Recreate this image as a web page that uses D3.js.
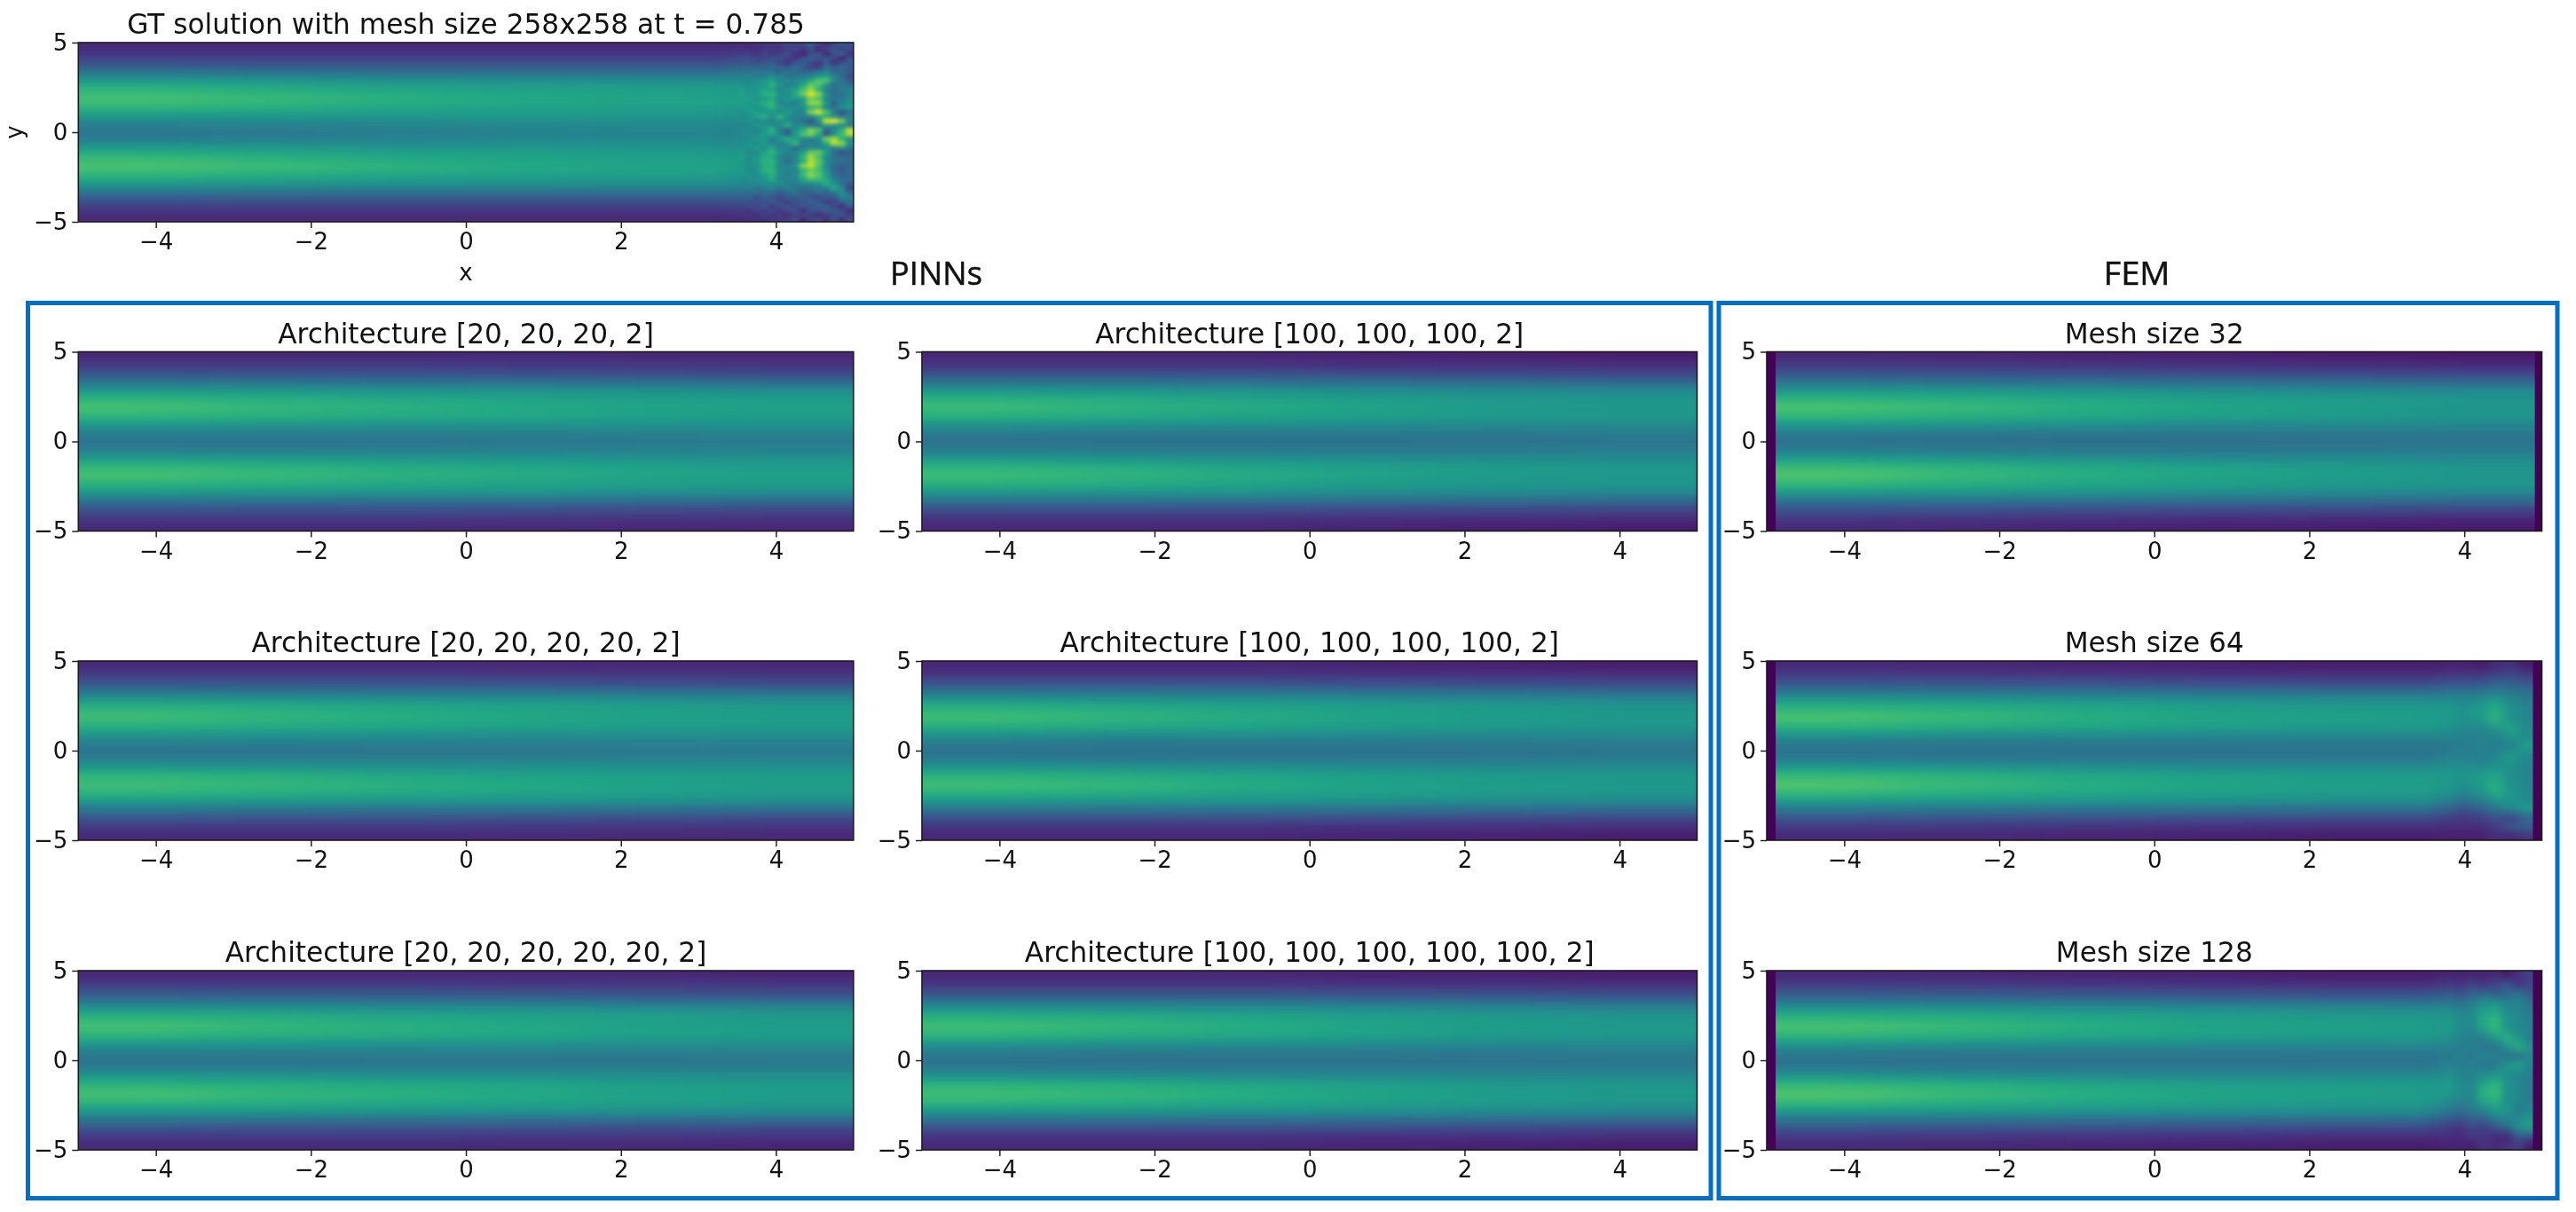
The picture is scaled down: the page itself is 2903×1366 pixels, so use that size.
<!DOCTYPE html>
<html><head><meta charset="utf-8"><style>
html,body{margin:0;padding:0;background:#fff;overflow:hidden}
text{font-family:"DejaVu Sans";fill:#111}
.soft{filter:blur(.45px)}
</style></head><body><svg id="c" width="2903" height="1366"></svg>
<script src="https://cdn.jsdelivr.net/npm/d3@7/dist/d3.min.js"></script>
<script>
// Field values on the 0-100 range of the viridis colour map.
// Each coarse table: one row per column along x, 21 samples from y=5 to y=-5.
const gtBase=[
[12,17,26,39,54,65,70,66,55,44,39,44,56,67,71,65,54,39,26,17,12],
[12,17,25,38,53,62,67,63,55,45,40,45,56,63,68,62,53,38,25,17,12],
[12,17,25,37,51,59,63,60,54,46,42,46,54,60,64,59,51,37,25,17,12],
[12,17,25,37,50,57,60,58,54,47,44,47,54,58,60,57,50,37,25,17,12],
[12,17,25,37,49,56,58,57,53,48,45,48,53,57,58,56,49,37,25,17,12],
[12,17,25,37,49,55,57,56,52,47,45,47,52,56,57,55,49,37,25,17,12]];
const pinn20a=[
[12,17,26,38,53,64,70,65,54,43,38,43,55,66,70,64,53,38,26,17,12],
[12,17,25,37,52,62,66,63,53,43,38,43,54,64,67,62,52,37,25,17,12],
[12,17,25,36,51,60,63,61,52,43,38,43,53,61,64,60,51,36,25,17,12],
[12,16,24,36,50,58,60,59,52,43,39,43,52,59,61,58,50,36,24,16,12],
[11,16,23,35,49,56,58,57,51,44,40,44,51,57,58,56,49,35,23,16,11],
[11,15,22,34,48,55,56,55,51,44,41,44,51,55,56,55,48,34,22,15,11]];
const pinn20b=[
[12,17,26,38,53,64,69,64,54,43,38,43,54,65,69,64,53,38,26,17,12],
[12,17,25,37,52,62,65,62,53,43,38,43,53,63,66,62,52,37,25,17,12],
[12,17,25,36,51,60,62,60,52,43,39,43,52,60,63,60,51,36,25,17,12],
[12,16,24,36,50,58,59,58,51,43,39,43,51,58,60,58,50,36,24,16,12],
[11,16,23,35,49,56,57,56,51,44,40,44,51,56,57,56,49,35,23,16,11],
[11,15,22,34,48,54,55,55,50,44,41,44,50,55,55,54,48,34,22,15,11]];
const pinn20c=[
[12,17,26,38,53,64,70,65,54,43,38,43,55,65,70,64,53,38,26,17,12],
[12,17,25,37,52,62,66,63,53,43,38,43,54,63,66,62,52,37,25,17,12],
[12,17,25,36,51,60,63,61,52,43,39,43,52,61,63,60,51,36,25,17,12],
[12,16,24,36,50,58,60,59,52,43,39,43,52,59,60,58,50,36,24,16,12],
[11,16,23,35,49,56,57,56,51,43,39,43,51,56,57,56,49,35,23,16,11],
[10,15,22,34,48,54,55,55,50,43,40,43,50,55,55,54,48,34,22,15,10]];
const pinn100a=[
[11,15,24,37,52,63,68,63,52,42,37,42,53,64,68,63,52,37,24,15,11],
[11,15,24,37,51,61,64,61,51,41,37,41,52,62,65,61,51,37,24,15,11],
[11,15,24,36,50,58,61,58,50,41,37,41,50,58,61,58,50,36,24,15,11],
[10,14,23,35,48,55,57,56,49,41,37,41,49,56,57,55,48,35,23,14,10],
[9,14,22,34,47,53,54,54,48,41,38,41,48,54,54,53,47,34,22,14,9],
[8,13,21,33,46,52,53,53,48,42,39,42,48,53,53,52,46,33,21,13,8]];
const pinn100b=[
[11,15,24,37,52,63,69,64,53,42,37,42,53,64,69,63,52,37,24,15,11],
[11,15,24,37,51,61,65,61,51,41,37,41,52,62,66,61,51,37,24,15,11],
[11,15,24,36,50,58,61,59,50,41,37,41,50,59,61,58,50,36,24,15,11],
[10,14,23,35,49,56,57,56,49,41,37,41,49,56,57,56,49,35,23,14,10],
[9,14,22,34,47,54,55,54,48,41,38,41,48,54,55,54,47,34,22,14,9],
[8,13,21,33,46,52,53,53,48,42,39,42,48,53,53,52,46,33,21,13,8]];
const pinn100c=[
[11,15,24,37,52,63,69,65,53,42,37,42,53,65,69,64,52,37,24,15,11],
[11,15,24,37,51,62,66,62,52,41,37,41,52,63,66,62,51,37,24,15,11],
[11,15,24,36,50,59,62,60,50,41,37,41,50,60,62,59,50,36,24,15,11],
[10,14,23,35,49,56,58,57,49,41,37,41,49,57,58,56,49,35,23,14,10],
[9,14,22,34,47,54,55,54,48,41,38,41,48,54,55,54,47,34,22,14,9],
[8,13,21,33,46,52,53,53,48,42,39,42,48,53,53,52,46,33,21,13,8]];
const fem32=[
[12,17,26,38,53,64,71,66,54,42,37,42,55,67,72,66,53,38,26,17,12],
[11,16,25,37,52,62,67,63,52,41,36,41,53,64,67,62,52,37,25,16,11],
[10,15,24,36,50,59,62,60,50,40,36,40,50,60,62,59,50,36,24,15,10],
[9,14,23,35,48,56,58,57,48,40,36,40,48,57,58,56,48,35,23,14,9],
[8,13,22,34,47,54,55,54,48,40,37,40,48,54,55,54,47,34,22,13,8],
[7,12,21,33,46,52,52,52,47,41,38,41,47,52,52,52,46,33,21,12,7]];
const fem64=[
[12,17,26,38,53,64,71,66,54,42,37,42,55,67,72,66,53,38,26,17,12],
[11,16,25,37,52,62,67,63,52,41,37,41,53,64,67,62,52,37,25,16,11],
[10,15,24,36,50,59,62,60,50,41,37,41,50,60,62,59,50,36,24,15,10],
[9,14,23,35,49,56,58,57,49,41,37,41,49,57,58,56,49,35,23,14,9],
[8,13,22,34,48,54,56,55,49,41,38,41,49,55,56,54,48,34,22,13,8],
[8,13,22,34,47,54,55,54,49,41,38,41,49,54,55,54,47,34,22,13,8]];
const fem128=[
[12,17,26,38,53,64,71,66,54,42,37,42,55,67,72,66,53,38,26,17,12],
[11,16,25,37,52,62,67,63,52,41,37,41,53,64,67,62,52,37,25,16,11],
[10,15,24,36,50,59,62,60,50,41,37,41,50,60,62,59,50,36,24,15,10],
[9,14,23,35,49,56,58,57,49,41,37,41,49,57,58,56,49,35,23,14,9],
[8,13,22,34,48,54,56,55,49,41,38,41,49,55,56,54,48,34,22,13,8],
[8,13,22,34,47,54,55,54,49,41,38,41,49,54,55,54,47,34,22,13,8]];
// Right-hand wave detail, rows from y=5 to y=-5, columns from detail x start to end.
const gtDetail=[
[13,13,13,13,12,14,15,15,17,22,18,22,30,20,13,22,26,23],
[15,15,15,15,14,13,15,17,14,20,22,15,24,10,21,28,20,23],
[19,19,18,19,19,16,21,15,19,24,15,9,22,27,10,26,32,14],
[23,23,23,23,24,22,20,24,26,18,15,25,32,26,28,20,10,27],
[28,28,28,28,26,24,27,30,20,15,27,32,22,17,28,14,25,30],
[34,34,33,33,33,33,30,34,32,27,36,28,19,17,36,30,35,28],
[40,40,39,38,37,39,41,36,32,41,35,32,34,40,44,32,33,28],
[46,46,44,44,44,42,41,48,44,37,40,43,46,52,58,46,34,22],
[50,50,49,48,46,48,54,58,48,48,46,50,60,74,72,46,38,28],
[53,53,53,51,50,53,52,64,50,42,47,60,76,72,50,36,40,36],
[55,55,54,56,52,52,60,56,46,50,56,70,84,62,42,36,42,45],
[56,55,54,58,52,55,62,66,50,47,60,78,98,84,50,34,36,46],
[57,56,55,55,57,50,55,60,48,53,54,54,76,70,46,42,42,46],
[56,55,56,57,52,57,62,66,44,48,42,54,86,84,52,28,45,50],
[55,53,53,54,55,51,57,64,54,46,50,49,62,66,44,38,50,54],
[53,51,51,48,54,56,52,53,46,56,44,45,82,98,72,42,24,36],
[51,50,51,50,48,58,64,50,66,48,46,42,47,60,62,50,39,44],
[48,47,47,48,52,47,47,44,50,50,42,37,26,48,96,100,80,44],
[46,46,47,45,46,52,52,50,46,64,44,48,38,40,56,50,45,40],
[45,45,46,48,47,45,53,64,44,30,52,62,82,72,28,45,64,92],
[45,45,45,47,50,46,55,60,46,32,54,72,80,60,28,50,68,88],
[46,46,47,45,47,54,52,38,54,64,55,45,41,48,80,88,64,45],
[48,48,47,50,53,47,54,48,44,50,68,41,44,44,60,90,84,52],
[51,51,51,48,50,56,51,58,44,47,32,44,46,46,47,44,50,40],
[53,53,51,54,48,48,58,66,50,46,46,54,76,78,58,36,24,30],
[55,54,52,55,50,52,62,60,46,40,44,66,86,70,47,37,34,33],
[56,55,55,53,48,54,64,66,47,34,44,60,88,76,50,38,38,35],
[57,55,55,52,50,50,62,63,46,44,50,82,92,72,47,35,30,31],
[56,54,53,54,48,51,64,66,48,46,44,64,74,70,52,33,27,35],
[55,53,51,52,51,48,56,62,48,42,47,68,84,74,56,38,32,32],
[53,51,49,48,50,51,51,62,45,46,45,60,70,68,60,42,35,37],
[50,48,46,46,44,47,49,48,50,42,42,46,45,50,62,54,37,27],
[46,44,42,41,43,39,41,45,36,46,38,35,38,41,44,60,46,20],
[40,38,36,36,34,36,34,35,31,33,38,30,31,36,31,38,52,34],
[34,33,31,29,33,23,31,27,21,31,27,32,25,21,31,28,44,42],
[28,27,26,27,23,26,24,29,24,17,27,25,32,27,17,20,32,36],
[23,22,21,20,24,21,26,17,25,25,20,28,25,32,29,23,13,32],
[19,18,18,19,15,21,17,22,16,23,26,13,25,24,30,28,24,11],
[15,15,15,15,15,14,19,15,18,13,18,21,18,14,18,25,26,19],
[13,13,13,12,13,14,13,17,15,19,24,10,21,22,14,23,12,24]];
const fem64Detail=[
[10,10,9,7,12,13,7],[17,17,16,16,19,22,18],[28,28,26,27,31,31,27],[40,40,39,39,43,40,38],
[49,49,48,50,56,47,42],[53,53,51,55,62,50,45],[53,53,51,53,64,50,46],[50,49,47,46,52,58,47],
[44,44,43,44,44,52,49],[39,41,41,45,42,42,57],[44,44,44,42,46,54,47],[50,49,47,45,48,50,46],
[53,53,51,54,57,49,45],[53,53,51,55,62,49,46],[49,49,47,52,63,53,46],[40,40,39,42,52,52,48],
[28,28,26,30,38,47,55],[17,17,17,19,25,19,32],[13,13,13,13,17,29,31],[9,9,8,8,13,10,15]];
const fem128Detail=[
[10,10,10,9,10,9,11,7,15,19],[17,17,16,15,20,16,21,27,14,21],[28,28,27,25,30,32,27,32,37,27],
[40,40,39,36,42,49,51,43,45,37],[49,49,48,46,47,57,59,49,46,41],[53,53,54,48,48,62,66,51,46,43],
[53,53,54,47,46,58,66,53,48,43],[50,49,49,45,42,43,54,64,52,41],[44,44,44,42,44,39,38,50,64,50],
[39,40,40,43,39,46,43,36,34,47],[44,44,44,42,45,39,40,53,58,45],[50,49,49,45,43,47,52,49,46,43],
[53,53,54,47,46,58,63,50,46,41],[53,53,54,48,48,64,68,51,46,41],[49,49,48,45,46,59,64,49,48,41],
[40,40,39,37,42,46,55,53,41,47],[28,28,27,26,31,32,43,45,47,53],[17,17,16,16,21,18,26,35,50,58],
[13,13,13,12,17,15,12,10,27,25],[9,9,9,9,8,15,12,15,17,7]];
const xTicks=[-4,-2,0,2,4];
const yTicks=[-5,0,5];
const titles=["GT solution with mesh size 258x258 at t = 0.785",
"Architecture [20, 20, 20, 2]","Architecture [100, 100, 100, 2]","Mesh size 32",
"Architecture [20, 20, 20, 20, 2]","Architecture [100, 100, 100, 100, 2]","Mesh size 64",
"Architecture [20, 20, 20, 20, 20, 2]","Architecture [100, 100, 100, 100, 100, 2]","Mesh size 128"];
const groupLabels=["PINNs","FEM"];

const W=873.5,H=202,colX=[88.3,1039,1991],rowY=[396.5,745,1094];
const panels=[{t:titles[0],x:colX[0],y:48,base:gtBase,detail:gtDetail,dx:[3.2,5],blur:"2.8 2",labels:true}];
const bases=[pinn20a,pinn100a,fem32,pinn20b,pinn100b,fem64,pinn20c,pinn100c,fem128];
bases.forEach((b,i)=>{const r=Math.floor(i/3),c=i%3;
  const p={t:titles[i+1],x:colX[c],y:rowY[r],base:b};
  if(c===2){p.edge=r===0?[.115,.09]:[.115,.115];}
  if(b===fem64){p.detail=fem64Detail;p.dx=[3.5,4.9];p.blur="6 5";}
  if(b===fem128){p.detail=fem128Detail;p.dx=[3.425,4.925];p.blur="4 5";}
  panels.push(p);});

const svg=d3.select("#c");
const defs=svg.append("defs");
const color=d3.scaleSequential(d3.interpolateViridis).domain([0,100]);
const X=d3.scaleLinear().domain([-5,5]).range([0,W]);
const Y=d3.scaleLinear().domain([-5,5]).range([H,0]);
defs.append("filter").attr("id","bb").attr("x","-30%").attr("y","-30%").attr("width","160%").attr("height","160%")
  .attr("color-interpolation-filters","sRGB").append("feGaussianBlur").attr("stdDeviation","48 3.5");

function cellLayer(g,matrix,xs,ys,pad){
  const cells=matrix.flatMap((col,i)=>col.map((v,j)=>({i,j,v})));
  const iN=matrix.length,jN=matrix[0].length;
  g.selectAll("rect").data(cells).join("rect")
   .attr("x",d=>xs(d.i)-(d.i===0?pad:0))
   .attr("y",d=>ys(d.j)-(d.j===0?pad:0))
   .attr("width",d=>xs.bandwidth()+.6+((d.i===0||d.i===iN-1)?pad:0))
   .attr("height",d=>ys.bandwidth()+.6+((d.j===0||d.j===jN-1)?pad:0))
   .attr("fill",d=>color(d.v));
}

panels.forEach((p,k)=>{
  const g=svg.append("g").attr("transform",`translate(${p.x},${p.y})`);
  defs.append("clipPath").attr("id","cl"+k).append("rect").attr("width",W).attr("height",H);
  const plot=g.append("g").attr("clip-path",`url(#cl${k})`);
  const xs=d3.scaleBand().domain(d3.range(p.base.length)).range([0,W]);
  const ys=d3.scaleBand().domain(d3.range(p.base[0].length)).range([0,H]);
  cellLayer(plot.append("g").attr("filter","url(#bb)"),p.base,xs,ys,150);
  if(p.detail){
    const nC=p.detail[0].length,nR=p.detail.length;
    const trans=d3.transpose(p.detail);
    const dxs=d3.scaleBand().domain(d3.range(nC)).range([X(p.dx[0]),X(p.dx[1])]);
    const dys=d3.scaleBand().domain(d3.range(nR)).range([0,H]);
    const grad=defs.append("linearGradient").attr("id","fg"+k).attr("gradientUnits","userSpaceOnUse")
      .attr("x1",X(p.dx[0])).attr("x2",X(p.dx[0]+.45)).attr("y1",0).attr("y2",0);
    grad.append("stop").attr("offset",0).attr("stop-color","#000");
    grad.append("stop").attr("offset",1).attr("stop-color","#fff");
    defs.append("mask").attr("id","mk"+k).attr("maskUnits","userSpaceOnUse").attr("x",0).attr("y",0).attr("width",W).attr("height",H)
      .append("rect").attr("width",W).attr("height",H).attr("fill",`url(#fg${k})`);
    defs.append("filter").attr("id","db"+k).attr("x","-10%").attr("y","-10%").attr("width","120%").attr("height","120%")
      .attr("color-interpolation-filters","sRGB").append("feGaussianBlur").attr("stdDeviation",p.blur);
    cellLayer(plot.append("g").attr("mask",`url(#mk${k})`).append("g").attr("filter",`url(#db${k})`),trans,dxs,dys,40);
  }
  if(p.edge){
    const strips=[[-5,-5+p.edge[0]],[5-p.edge[1],5]];
    plot.selectAll("rect.e").data(strips).join("rect").attr("class","e")
      .attr("x",d=>X(d[0])).attr("width",d=>X(d[1])-X(d[0])).attr("y",0).attr("height",H).attr("fill",color(0.5));
  }
  g.append("rect").attr("width",W).attr("height",H).attr("fill","none").attr("stroke","#1a1a1a").attr("stroke-width",1.6);
  const ax=g.append("g").attr("class","soft");
  const xa=ax.append("g").attr("transform",`translate(0,${H})`).call(d3.axisBottom(X).tickValues(xTicks).tickSize(7).tickPadding(6));
  const ya=ax.append("g").call(d3.axisLeft(Y).tickValues(yTicks).tickSize(7).tickPadding(5));
  [xa,ya].forEach(a=>{a.select(".domain").remove();
    a.selectAll("line").attr("stroke","#222").attr("stroke-width",1.5);
    a.selectAll("text").attr("font-size",26).attr("font-family","DejaVu Sans").attr("fill","#111");});
  ax.append("text").attr("x",W/2).attr("y",-10).attr("text-anchor","middle").attr("font-size",31.2).text(p.t);
  if(p.labels){
    ax.append("text").attr("x",W/2).attr("y",H+66).attr("text-anchor","middle").attr("font-size",26).text("x");
    ax.append("text").attr("transform",`translate(-63,${H/2}) rotate(-90)`).attr("text-anchor","middle").attr("font-size",26).text("y");
  }
});

const boxes=[[31.5,341.5,1896.5,1009],[1937,341.5,945,1009]];
svg.selectAll("rect.box").data(boxes).join("rect").attr("class","box")
 .attr("x",d=>d[0]).attr("y",d=>d[1]).attr("width",d=>d[2]).attr("height",d=>d[3])
 .attr("fill","none").attr("stroke","#0070c6").attr("stroke-width",5);
const groupWidths=[104,75];
svg.selectAll("text.gl").data(groupLabels).join("text").attr("class","gl soft")
 .attr("x",(d,i)=>[1055,2408][i]).attr("y",321).attr("text-anchor","middle")
 .attr("textLength",(d,i)=>groupWidths[i]).attr("lengthAdjust","spacingAndGlyphs")
 .style("font-family","'Open Sans'").attr("font-size",37).attr("stroke","#111").attr("stroke-width",.5).text(d=>d);
</script></body></html>
